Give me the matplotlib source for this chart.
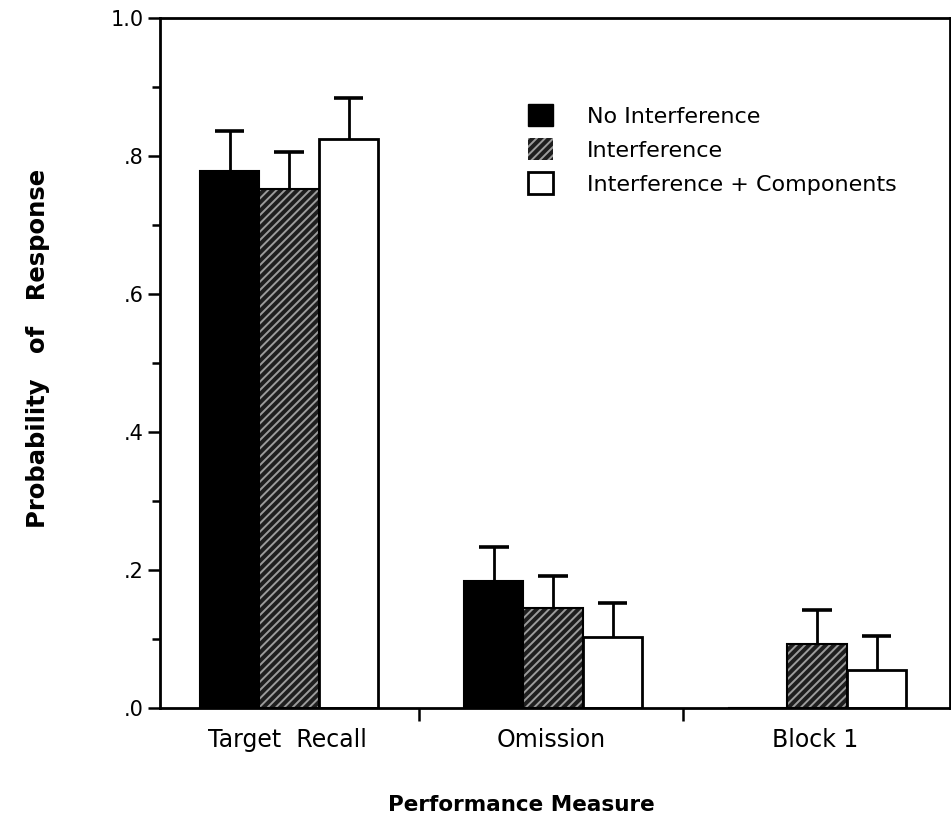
import matplotlib
matplotlib.use("Agg")
import matplotlib.pyplot as plt
import numpy as np
from matplotlib.patches import Patch

plt.rcParams.update({"font.family": ["DejaVu Sans"], "hatch.linewidth": 1.4})

measures = ["Target  Recall", "Omission", "Block 1"]
conditions = ["No Interference", "Interference", "Interference + Components"]
means = {
    "No Interference": [0.778, 0.184, 0.0],
    "Interference": [0.752, 0.145, 0.093],
    "Interference + Components": [0.825, 0.103, 0.055],
}
errs = {
    "No Interference": [0.058, 0.049, np.nan],
    "Interference": [0.054, 0.046, 0.049],
    "Interference + Components": [0.059, 0.049, 0.049],
}
HATCH_FC, HATCH_EC = "#1e1e1e", "#9c9c9c"

fig = plt.figure(figsize=(9.51, 8.21), dpi=100)
ax = fig.add_axes([160 / 951, 113 / 821, 790 / 951, 690 / 821])

x = np.arange(len(measures))
w = 0.225
cap = 0.056
for i, cond in enumerate(conditions):
    pos = x + (i - 1) * w + 0.008
    vals = np.array(means[cond])
    if cond == "Interference":
        # dark fill with light diagonal stripes, black outline on top
        ax.bar(pos, vals, w, color=HATCH_FC, edgecolor=HATCH_EC, hatch="////", lw=0)
        ax.bar(pos, vals, w, fill=False, edgecolor="black", lw=1.5)
    elif cond == "No Interference":
        ax.bar(pos, vals, w, color="black", edgecolor="black", lw=1.5)
    else:
        ax.bar(pos, vals, w, color="white", edgecolor="black", lw=2.0)
    # upper error bars only
    e = np.array(errs[cond])
    ok = ~np.isnan(e)
    ax.vlines(pos[ok], vals[ok], vals[ok] + e[ok], color="black", lw=2.0)
    ax.hlines(vals[ok] + e[ok], pos[ok] - cap, pos[ok] + cap, color="black", lw=2.6)

ax.set_xlim(-0.481, 2.511)
ax.set_ylim(0, 1.0)
ax.set_yticks([0, 0.2, 0.4, 0.6, 0.8, 1.0])
ax.set_yticklabels([".0", ".2", ".4", ".6", ".8", "1.0"], fontsize=15)
ax.set_yticks(np.arange(0.1, 1.0, 0.2), minor=True)
ax.set_xticks([0.5, 1.5])
ax.set_xticklabels([])
ax.tick_params(axis="both", which="major", direction="out", length=9, width=1.8, pad=3)
ax.tick_params(axis="both", which="minor", direction="out", length=6, width=1.8)
for s in ax.spines.values():
    s.set_linewidth(2.0)
for xi, name in zip(x, measures):
    ax.text(xi, -0.046, name, ha="center", va="center", fontsize=17,
            transform=ax.get_xaxis_transform())

fig.text(521 / 951, 1 - 805 / 821, "Performance Measure", ha="center", va="center",
         fontsize=15.5, fontweight="bold")
fig.text(38 / 951, 1 - 348 / 821, "Probability   of   Response", ha="center",
         va="center", rotation=90, fontsize=17.5, fontweight="semibold")

handles = [Patch(facecolor="black", edgecolor="black"),
           Patch(facecolor=HATCH_FC, edgecolor=HATCH_EC, hatch="////", lw=0),
           Patch(facecolor="white", edgecolor="black", lw=2.0)]
ax.legend(handles, conditions, loc="upper left", bbox_to_anchor=(0.466, 0.875),
          frameon=False, fontsize=16, handlelength=1.13, handleheight=1.13,
          handletextpad=1.5, labelspacing=0.52, borderpad=0, borderaxespad=0)

fig.savefig("out.png", dpi=100)
